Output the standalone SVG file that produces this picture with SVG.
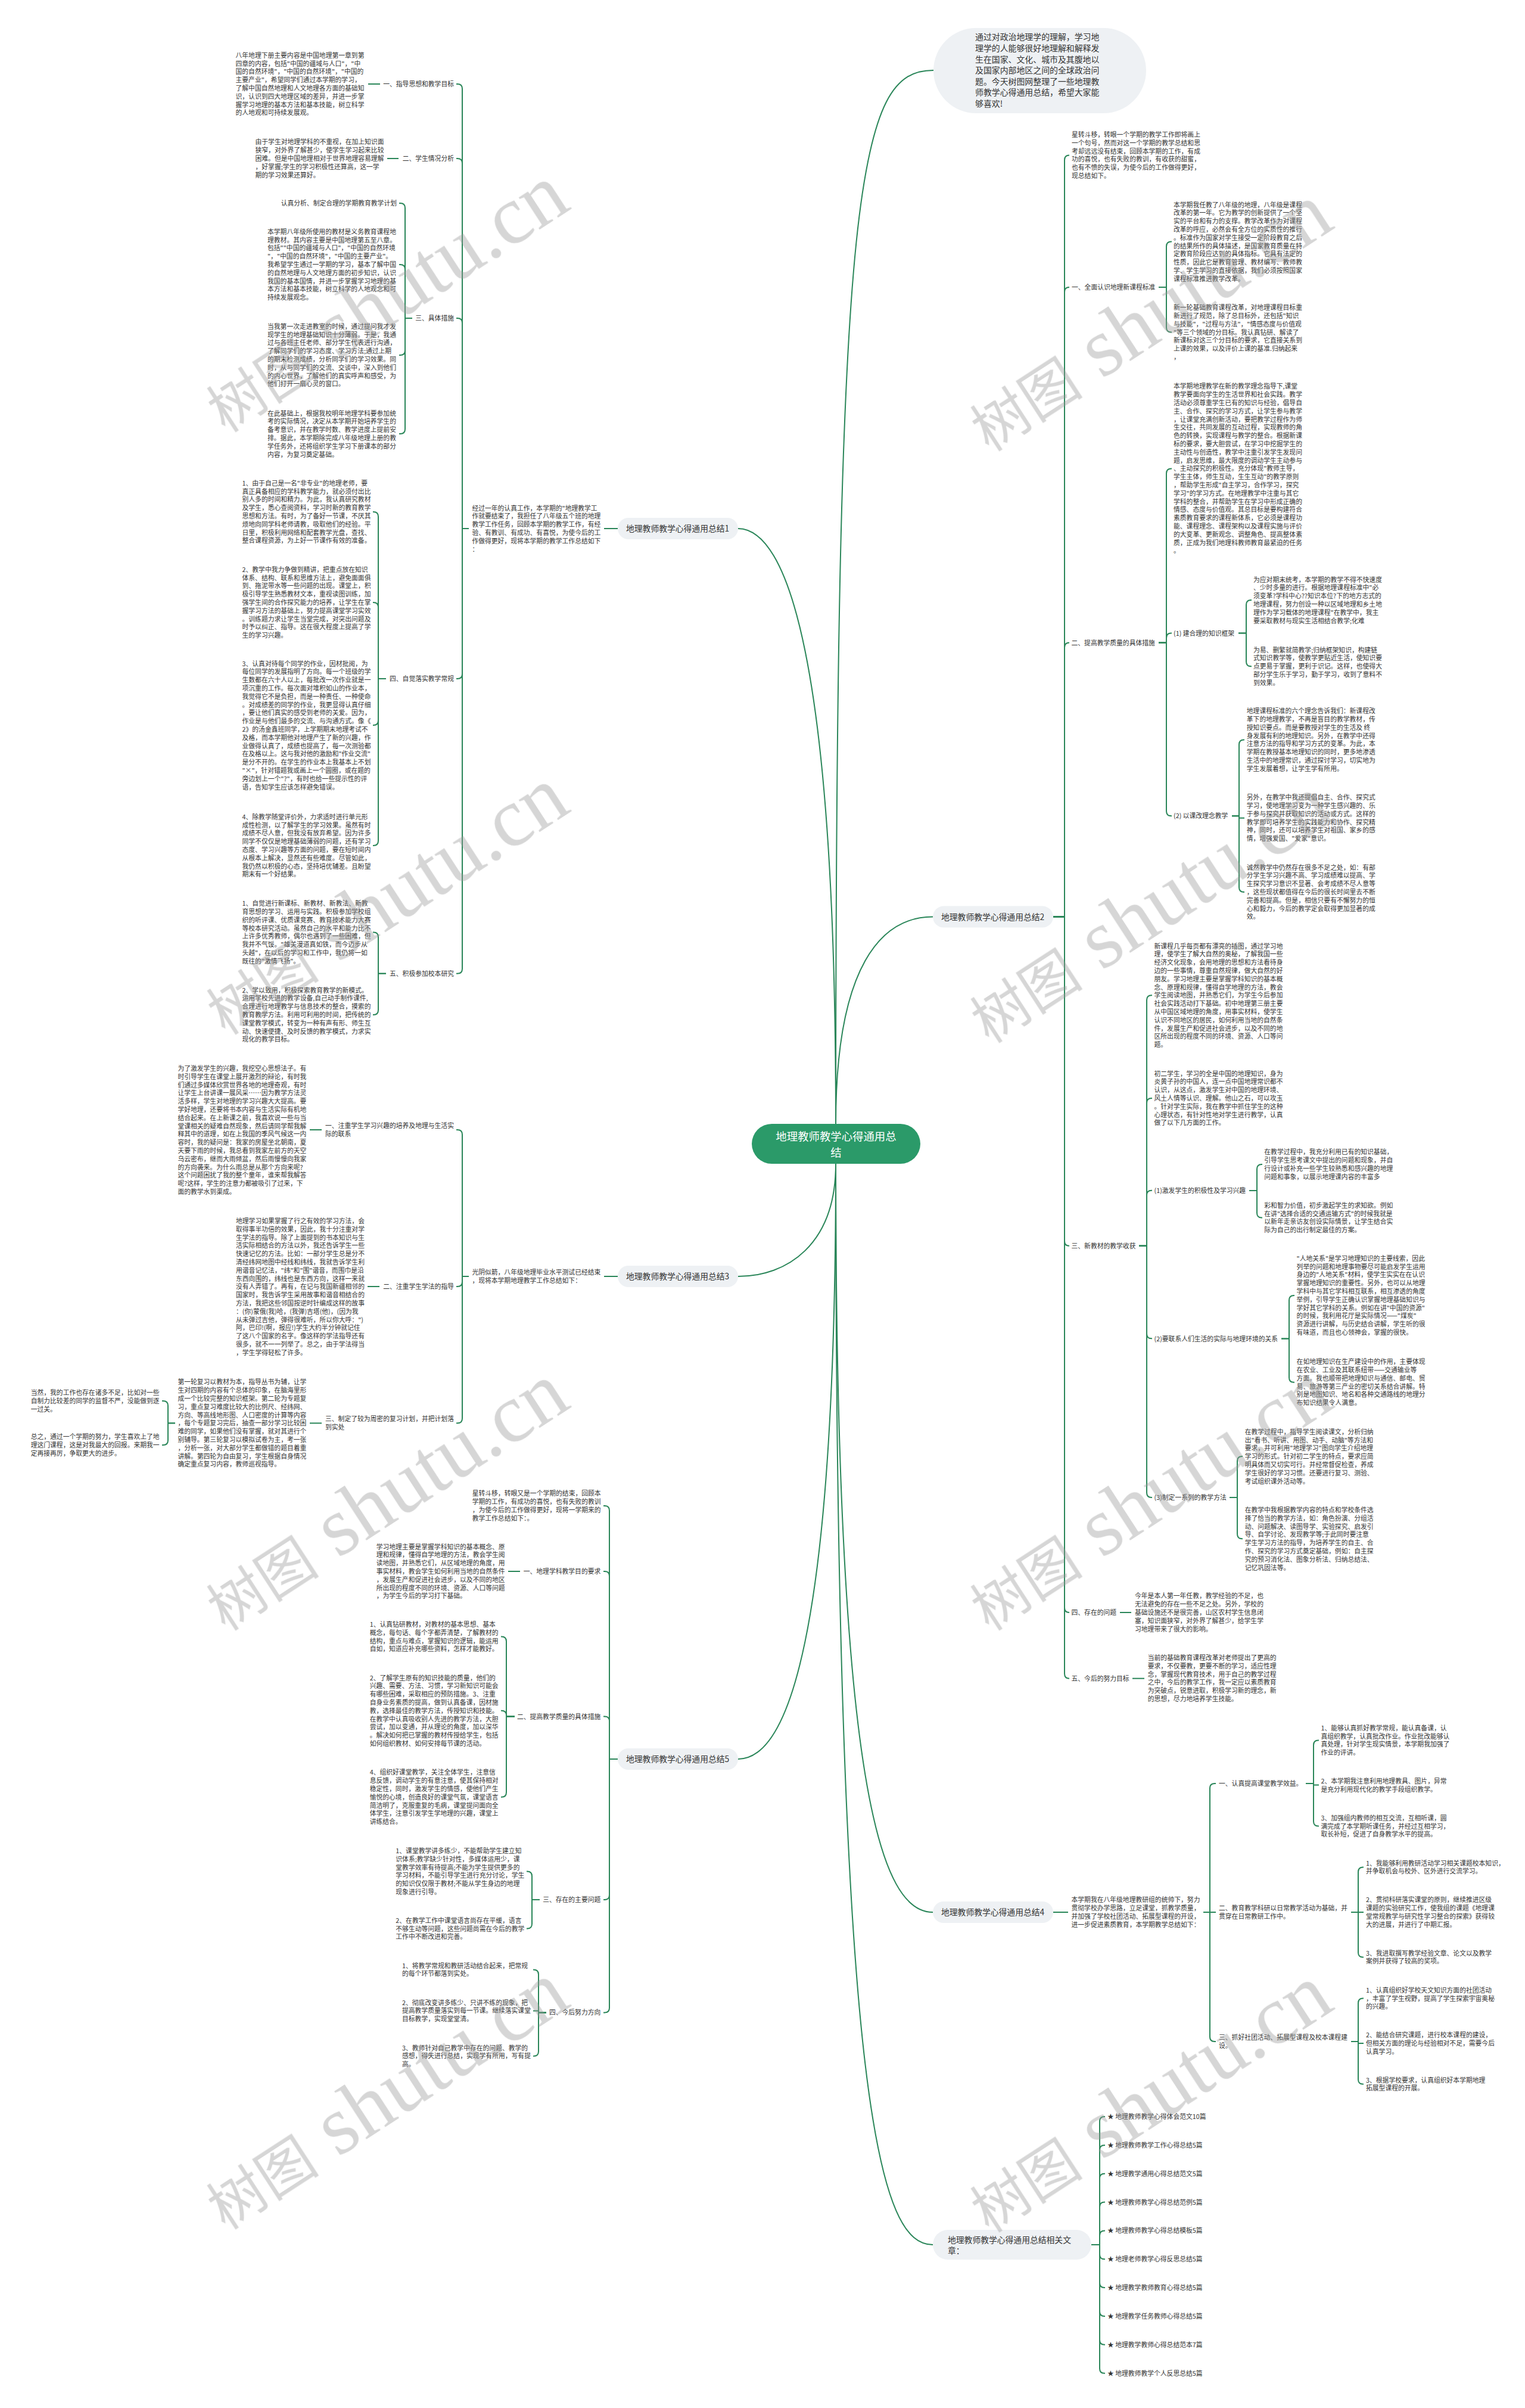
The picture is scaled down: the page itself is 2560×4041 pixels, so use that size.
<svg xmlns="http://www.w3.org/2000/svg" width="2560" height="4041" viewBox="0 0 2560 4041">
<style>
.t{font-family:"Noto Sans CJK SC","Noto Sans",sans-serif;font-size:10.8px;fill:#333}
.e{text-anchor:end}
.l1{font-family:"Noto Sans CJK SC","Noto Sans",sans-serif;font-size:13.8px;fill:#333}
.n1{fill:#eef1f4}
.c{stroke:#2a8659;stroke-width:2;fill:none}
.wm{fill:#9a9a9a;opacity:0.4}
</style>
<rect width="2560" height="4041" fill="#fff"/>

<g id="connectors" class="c">
<path d="M1403,1886 C1403,300 1440,118 1567,118"/>
<path d="M1403,1886 C1403,1100 1320,887 1239,887"/>
<path d="M1403,1886 C1403,1620 1480,1538.6 1566,1538.6"/>
<path d="M1403,1953 C1403,2090 1320,2142 1239,2142"/>
<path d="M1403,1953 C1403,2760 1320,2952 1239,2952"/>
<path d="M1403,1953 C1403,3010 1480,3209 1566,3209"/>
<path d="M1403,1953 C1403,3560 1480,3767 1566,3767"/>
<path d="M1037,887 H1014"/>
<path d="M787,887 H776 V149 Q776,141 768,141 H766"/>
<path d="M787,887 H776 V274 Q776,266 768,266 H766"/>
<path d="M787,887 H776 V542 Q776,534 768,534 H766"/>
<path d="M787,887 H776 V1131 Q776,1139 768,1139 H766"/>
<path d="M787,887 H776 V1625.7 Q776,1633.7 768,1633.7 H766"/>
<path d="M638,141 H618"/>
<path d="M669,266 H650"/>
<path d="M692,534 H680 V349 Q680,341 672,341 H670"/>
<path d="M692,534 H680 V452 Q680,444 672,444 H670"/>
<path d="M692,534 H680 V588 Q680,596 672,596 H670"/>
<path d="M692,534 H680 V720 Q680,728 672,728 H670"/>
<path d="M648,1139 H635 V867 Q635,859 627,859 H626"/>
<path d="M648,1139 H635 V1019 Q635,1011 627,1011 H626"/>
<path d="M648,1139 H635 V1209 Q635,1217 627,1217 H626"/>
<path d="M648,1139 H635 V1411 Q635,1419 627,1419 H626"/>
<path d="M648,1633.7 H635 V1572.5 Q635,1564.5 627,1564.5 H626"/>
<path d="M648,1633.7 H635 V1695 Q635,1703 627,1703 H626"/>
<path d="M1037,2142 H1014"/>
<path d="M787,2142 H776 V1904 Q776,1896 768,1896 H766"/>
<path d="M787,2142 H776 V2151 Q776,2159 768,2159 H766"/>
<path d="M787,2142 H776 V2380.3 Q776,2388.3 768,2388.3 H766"/>
<path d="M540,1896 H520"/>
<path d="M637,2159 H617"/>
<path d="M540,2388.3 H520"/>
<path d="M294,2388.3 H282 V2359 Q282,2351 274,2351 H272"/>
<path d="M294,2388.3 H282 V2417 Q282,2425 274,2425 H272"/>
<path d="M1037,2952 H1023 V2535 Q1023,2527 1015,2527 H1013"/>
<path d="M1037,2952 H1023 V2645 Q1023,2637 1015,2637 H1013"/>
<path d="M1037,2952 H1023 V2888.5 Q1023,2880.5 1015,2880.5 H1013"/>
<path d="M1037,2952 H1023 V3180 Q1023,3188 1015,3188 H1013"/>
<path d="M1037,2952 H1023 V3369.4 Q1023,3377.4 1015,3377.4 H1013"/>
<path d="M873,2637 H853"/>
<path d="M864,2880.5 H850 V2754.6 Q850,2746.6 842,2746.6 H841"/>
<path d="M864,2880.5 H850 V2878.7 Q850,2870.7 842,2870.7 H841"/>
<path d="M864,2880.5 H850 V3007.7 Q850,3015.7 842,3015.7 H841"/>
<path d="M906,3188 H893 V3148.5 Q893,3140.5 885,3140.5 H884"/>
<path d="M906,3188 H893 V3228.5 Q893,3236.5 885,3236.5 H884"/>
<path d="M917,3377.4 H904 V3313.4 Q904,3305.4 896,3305.4 H895"/>
<path d="M917,3377.4 H904 V3374.4 H895"/>
<path d="M917,3377.4 H904 V3442.4 Q904,3450.4 896,3450.4 H895"/>
<path d="M1768,1538.6 H1787 V268.5 Q1787,260.5 1795,260.5"/>
<path d="M1768,1538.6 H1787 V490 Q1787,482 1795,482"/>
<path d="M1768,1538.6 H1787 V1086.6 Q1787,1078.6 1795,1078.6"/>
<path d="M1768,1538.6 H1787 V2082.7 Q1787,2090.7 1795,2090.7"/>
<path d="M1768,1538.6 H1787 V2698 Q1787,2706 1795,2706"/>
<path d="M1768,1538.6 H1787 V2808.7 Q1787,2816.7 1795,2816.7"/>
<path d="M1945,482 H1958 V413.6 Q1958,405.6 1966,405.6 H1967"/>
<path d="M1945,482 H1958 V549.5 Q1958,557.5 1966,557.5 H1967"/>
<path d="M1945,1078.6 H1958 V794.4 Q1958,786.4 1966,786.4 H1967"/>
<path d="M1945,1078.6 H1958 V1070.6 Q1958,1062.6 1966,1062.6 H1967"/>
<path d="M1945,1078.6 H1958 V1361.2 Q1958,1369.2 1966,1369.2 H1967"/>
<path d="M2079,1062.6 H2092 V1015 Q2092,1007 2100,1007 H2101"/>
<path d="M2079,1062.6 H2092 V1110.2 Q2092,1118.2 2100,1118.2 H2101"/>
<path d="M2068,1369.2 H2080 V1249.4 Q2080,1241.4 2088,1241.4 H2089"/>
<path d="M2068,1369.2 H2080 V1372.7 H2089"/>
<path d="M2068,1369.2 H2080 V1489 Q2080,1497 2088,1497 H2089"/>
<path d="M1912,2090.7 H1925 V1678.3 Q1925,1670.3 1933,1670.3 H1934"/>
<path d="M1912,2090.7 H1925 V1851 Q1925,1843 1933,1843 H1934"/>
<path d="M1912,2090.7 H1925 V2005.7 Q1925,1997.7 1933,1997.7 H1934"/>
<path d="M1912,2090.7 H1925 V2238.2 Q1925,2246.2 1933,2246.2 H1934"/>
<path d="M1912,2090.7 H1925 V2505 Q1925,2513 1933,2513 H1934"/>
<path d="M2097,1998 H2110 V1961.9 Q2110,1953.9 2118,1953.9 H2119"/>
<path d="M2097,1998 H2110 V2035.4 Q2110,2043.4 2118,2043.4 H2119"/>
<path d="M2151,2246.5 H2164 V2181.9 Q2164,2173.9 2172,2173.9 H2173"/>
<path d="M2151,2246.5 H2164 V2311.7 Q2164,2319.7 2172,2319.7 H2173"/>
<path d="M2064,2513 H2077 V2452.1 Q2077,2444.1 2085,2444.1 H2086"/>
<path d="M2064,2513 H2077 V2574.2 Q2077,2582.2 2085,2582.2 H2086"/>
<path d="M1880,2706 H1899"/>
<path d="M1901,2816.7 H1921"/>
<path d="M1768,3209 H1793"/>
<path d="M2020,3209 H2031 V3001 Q2031,2993 2039,2993 H2041"/>
<path d="M2020,3209 H2041"/>
<path d="M2020,3209 H2031 V3418 Q2031,3426 2039,3426 H2041"/>
<path d="M2192,2993 H2205 V2928.4 Q2205,2920.4 2213,2920.4 H2214"/>
<path d="M2192,2993 H2205 V2995.6 H2214"/>
<path d="M2192,2993 H2205 V3056.6 Q2205,3064.6 2213,3064.6 H2214"/>
<path d="M2268,3209 H2280 V3141.4 Q2280,3133.4 2288,3133.4 H2289"/>
<path d="M2268,3209 H2289"/>
<path d="M2268,3209 H2280 V3276.4 Q2280,3284.4 2288,3284.4 H2289"/>
<path d="M2268,3426 H2280 V3361.5 Q2280,3353.5 2288,3353.5 H2289"/>
<path d="M2268,3426 H2280 V3429.1 H2289"/>
<path d="M2268,3426 H2280 V3489.5 Q2280,3497.5 2288,3497.5 H2289"/>
<path d="M1832,3767 H1846 V3560 Q1846,3552 1854,3552 H1855"/>
<path d="M1832,3767 H1846 V3607.9 Q1846,3599.9 1854,3599.9 H1855"/>
<path d="M1832,3767 H1846 V3655.7 Q1846,3647.7 1854,3647.7 H1855"/>
<path d="M1832,3767 H1846 V3703.6 Q1846,3695.6 1854,3695.6 H1855"/>
<path d="M1832,3767 H1846 V3751.4 Q1846,3743.4 1854,3743.4 H1855"/>
<path d="M1832,3767 H1846 V3783.3 Q1846,3791.3 1854,3791.3 H1855"/>
<path d="M1832,3767 H1846 V3831.1 Q1846,3839.1 1854,3839.1 H1855"/>
<path d="M1832,3767 H1846 V3879 Q1846,3887 1854,3887 H1855"/>
<path d="M1832,3767 H1846 V3926.8 Q1846,3934.8 1854,3934.8 H1855"/>
<path d="M1832,3767 H1846 V3974.7 Q1846,3982.7 1854,3982.7 H1855"/>
</g>

<g id="center">
<rect x="1262" y="1886" width="283" height="67" rx="33.5" fill="#2b9a69"/>
<text x="1403.5" y="1914.3" text-anchor="middle" style="font-family:'Noto Sans CJK SC',sans-serif;font-size:18.4px;fill:#fff">地理教师教学心得通用总</text>
<text x="1403.5" y="1940.6" text-anchor="middle" style="font-family:'Noto Sans CJK SC',sans-serif;font-size:18.4px;fill:#fff">结</text>
</g>

<g id="intro">
<rect x="1567" y="47" width="357" height="143" rx="71.5" class="n1"/>
<text class="l1" x="1637" y="48.8" style="font-size:13.9px"><tspan x="1637" dy="18.6">通过对政治地理学的理解，学习地</tspan><tspan x="1637" dy="18.6">理学的人能够很好地理解和解释发</tspan><tspan x="1637" dy="18.6">生在国家、文化、城市及其腹地以</tspan><tspan x="1637" dy="18.6">及国家内部地区之间的全球政治问</tspan><tspan x="1637" dy="18.6">题。今天树图网整理了一些地理教</tspan><tspan x="1637" dy="18.6">师教学心得通用总结，希望大家能</tspan><tspan x="1637" dy="18.6">够喜欢!</tspan></text>
</g>

<g id="sum1">
<rect x="1037" y="869" width="202" height="36" rx="18" class="n1"/>
<text class="l1" x="1051" y="892">地理教师教学心得通用总结1</text>
</g>
<g id="sum1-intro">
<text class="t" x="792.4" y="842.7"><tspan x="792.4" dy="13.8">经过一年的认真工作，本学期的"地理教学工</tspan><tspan x="792.4" dy="13.8">作就要结束了，我担任了八年级五个班的地理</tspan><tspan x="792.4" dy="13.8">教学工作任务，回顾本学期的教学工作，有经</tspan><tspan x="792.4" dy="13.8">验、有教训、有成功、有喜悦，为使今后的工</tspan><tspan x="792.4" dy="13.8">作做得更好，现将本学期的教学工作总结如下</tspan><tspan x="792.4" dy="13.8">：</tspan></text>
</g>
<g id="s1-1">
<text class="t e" x="762" y="145">一、指导思想和教学目标</text>
<text class="t" x="395.5" y="82.9"><tspan x="395.5" dy="13.8">八年地理下册主要内容是中国地理第一章到第</tspan><tspan x="395.5" dy="13.8">四章的内容，包括"中国的疆域与人口"，"中</tspan><tspan x="395.5" dy="13.8">国的自然环境"，"中国的自然环境"，"中国的</tspan><tspan x="395.5" dy="13.8">主要产业"，希望同学们通过本学期的学习，</tspan><tspan x="395.5" dy="13.8">了解中国自然地理和人文地理各方面的基础知</tspan><tspan x="395.5" dy="13.8">识，认识到四大地理区域的差异，并进一步掌</tspan><tspan x="395.5" dy="13.8">握学习地理的基本方法和基本技能，树立科学</tspan><tspan x="395.5" dy="13.8">的人地观和可持续发展观。</tspan></text>
</g>
<g id="s1-2">
<text class="t e" x="762" y="270">二、学生情况分析</text>
<text class="t" x="428.5" y="228.6"><tspan x="428.5" dy="13.8">由于学生对地理学科的不重视，在加上知识面</tspan><tspan x="428.5" dy="13.8">狭窄，对外界了解甚少，使学生学习起来比较</tspan><tspan x="428.5" dy="13.8">困难。但是中国地理相对于世界地理容易理解</tspan><tspan x="428.5" dy="13.8">，好掌握;学生的学习积极性还算高，这一学</tspan><tspan x="428.5" dy="13.8">期的学习效果还算好。</tspan></text>
</g>
<g id="s1-3">
<text class="t e" x="762" y="538">三、具体措施</text>
<text class="t e" x="666" y="345">认真分析、制定合理的学期教育教学计划</text>
<text class="t" x="449" y="379"><tspan x="449" dy="13.8">本学期八年级所使用的教材是义务教育课程地</tspan><tspan x="449" dy="13.8">理教材。其内容主要是中国地理第五至八章。</tspan><tspan x="449" dy="13.8">包括""中国的疆域与人口"，"中国的自然环境</tspan><tspan x="449" dy="13.8">"，"中国的自然环境"，"中国的主要产业"。</tspan><tspan x="449" dy="13.8">我希望学生通过一学期的学习，基本了解中国</tspan><tspan x="449" dy="13.8">的自然地理与人文地理方面的初步知识，认识</tspan><tspan x="449" dy="13.8">我国的基本国情，并进一步掌握学习地理的基</tspan><tspan x="449" dy="13.8">本方法和基本技能，树立科学的人地观念和可</tspan><tspan x="449" dy="13.8">持续发展观念。</tspan></text>
<text class="t" x="449" y="537.9"><tspan x="449" dy="13.8">当我第一次走进教室的时候，通过提问我才发</tspan><tspan x="449" dy="13.8">现学生的地理基础知识十分薄弱。于是，我通</tspan><tspan x="449" dy="13.8">过与各班主任老师、部分学生代表进行沟通，</tspan><tspan x="449" dy="13.8">了解同学们的学习态度、学习方法;通过上期</tspan><tspan x="449" dy="13.8">的期末检测成绩，分析同学们的学习效果。同</tspan><tspan x="449" dy="13.8">时，从与同学们的交流、交谈中，深入到他们</tspan><tspan x="449" dy="13.8">的内心世界，了解他们的真实呼声和感受，为</tspan><tspan x="449" dy="13.8">他们打开一扇心灵的窗口。</tspan></text>
<text class="t" x="449" y="683.7"><tspan x="449" dy="13.8">在此基础上，根据我校明年地理学科要参加统</tspan><tspan x="449" dy="13.8">考的实际情况，决定从本学期开始培养学生的</tspan><tspan x="449" dy="13.8">备考意识，并在教学时数、教学进度上提前安</tspan><tspan x="449" dy="13.8">排。据此，本学期除完成八年级地理上册的教</tspan><tspan x="449" dy="13.8">学任务外，还将组织学生学习下册课本的部分</tspan><tspan x="449" dy="13.8">内容，为复习奠定基础。</tspan></text>
</g>
<g id="s1-4">
<text class="t e" x="762" y="1143">四、自觉落实教学常规</text>
<text class="t" x="406.5" y="800.9"><tspan x="406.5" dy="13.8">1、由于自己是一名"非专业"的地理老师，要</tspan><tspan x="406.5" dy="13.8">真正具备相应的学科教学能力，就必须付出比</tspan><tspan x="406.5" dy="13.8">别人多的时间和精力。为此，我认真研究教材</tspan><tspan x="406.5" dy="13.8">及学生，悉心查阅资料，学习时新的教育教学</tspan><tspan x="406.5" dy="13.8">思想和方法。有时，为了备好一节课，不厌其</tspan><tspan x="406.5" dy="13.8">烦地向同学科老师请教，吸取他们的经验。平</tspan><tspan x="406.5" dy="13.8">日里，积极利用网络和配套教学光盘，查找、</tspan><tspan x="406.5" dy="13.8">整合课程资源，为上好一节课作有效的准备。</tspan></text>
<text class="t" x="406.5" y="946"><tspan x="406.5" dy="13.8">2、教学中我力争做到精讲，把重点放在知识</tspan><tspan x="406.5" dy="13.8">体系、结构、联系和思维方法上，避免面面俱</tspan><tspan x="406.5" dy="13.8">到、拖泥带水等一些问题的出现。课堂上，积</tspan><tspan x="406.5" dy="13.8">极引导学生熟悉教材文本，重视读图训练，加</tspan><tspan x="406.5" dy="13.8">强学生间的合作探究能力的培养，让学生在掌</tspan><tspan x="406.5" dy="13.8">握学习方法的基础上，努力提高课堂学习实效</tspan><tspan x="406.5" dy="13.8">。训练题力求让学生当堂完成，对突出问题及</tspan><tspan x="406.5" dy="13.8">时予以纠正、指导。这在很大程度上提高了学</tspan><tspan x="406.5" dy="13.8">生的学习兴趣。</tspan></text>
<text class="t" x="406.5" y="1103.7"><tspan x="406.5" dy="13.8">3、认真对待每个同学的作业，因材批阅，为</tspan><tspan x="406.5" dy="13.8">每位同学的发展指明了方向。每一个班级的学</tspan><tspan x="406.5" dy="13.8">生数都在六十人以上，每批改一次作业就是一</tspan><tspan x="406.5" dy="13.8">项沉重的工作。每次面对堆积如山的作业本，</tspan><tspan x="406.5" dy="13.8">我觉得它不是负担，而是一种责任、一种使命</tspan><tspan x="406.5" dy="13.8">。对成绩差的同学的作业，我更显得认真仔细</tspan><tspan x="406.5" dy="13.8">，要让他们真实的感受到老师的关爱。因为，</tspan><tspan x="406.5" dy="13.8">作业是与他们最多的交流、与沟通方式。像《</tspan><tspan x="406.5" dy="13.8">2》的汤金鑫班同学，上学期期末地理考试不</tspan><tspan x="406.5" dy="13.8">及格，而本学期他对地理产生了新的兴趣，作</tspan><tspan x="406.5" dy="13.8">业做得认真了，成绩也提高了，每一次测验都</tspan><tspan x="406.5" dy="13.8">在及格以上。这与我对他的激励和"作业交流"</tspan><tspan x="406.5" dy="13.8">是分不开的。在学生的作业本上我基本上不划</tspan><tspan x="406.5" dy="13.8">"×"，针对错题我或画上一个圆圈，或在题的</tspan><tspan x="406.5" dy="13.8">旁边划上一个"?"，有时也给一些提示性的评</tspan><tspan x="406.5" dy="13.8">语，告知学生应该怎样避免错误。</tspan></text>
<text class="t" x="406.5" y="1360.9"><tspan x="406.5" dy="13.8">4、除教学随堂评价外，力求适时进行单元形</tspan><tspan x="406.5" dy="13.8">成性检测，以了解学生的学习效果。虽然有时</tspan><tspan x="406.5" dy="13.8">成绩不尽人意，但我没有放弃希望。因为许多</tspan><tspan x="406.5" dy="13.8">同学不仅仅是地理基础薄弱的问题，还有学习</tspan><tspan x="406.5" dy="13.8">态度、学习兴趣等方面的问题，要在短时间内</tspan><tspan x="406.5" dy="13.8">从根本上解决，显然还有些难度。尽管如此，</tspan><tspan x="406.5" dy="13.8">我仍然以积极的心态，坚持培优辅差。且盼望</tspan><tspan x="406.5" dy="13.8">期末有一个好结果。</tspan></text>
</g>
<g id="s1-5">
<text class="t e" x="762" y="1637.7">五、积极参加校本研究</text>
<text class="t" x="406.5" y="1506.4"><tspan x="406.5" dy="13.8">1、自觉进行新课标、新教材、新教法、新教</tspan><tspan x="406.5" dy="13.8">育思想的学习、运用与实践。积极参加学校组</tspan><tspan x="406.5" dy="13.8">织的听评课、优质课竞赛、教育技术能力大赛</tspan><tspan x="406.5" dy="13.8">等校本研究活动。虽然自己的水平和能力比不</tspan><tspan x="406.5" dy="13.8">上许多优秀教师，偶尔也遇到了一些困难，但</tspan><tspan x="406.5" dy="13.8">我并不气馁。"雄关漫道真如铁，而今迈步从</tspan><tspan x="406.5" dy="13.8">头越"，在以后的学习和工作中，我仍将一如</tspan><tspan x="406.5" dy="13.8">既往的"激情飞扬"。</tspan></text>
<text class="t" x="406.5" y="1651.8"><tspan x="406.5" dy="13.8">2、学以致用，积极探索教育教学的新模式。</tspan><tspan x="406.5" dy="13.8">运用学校先进的教学设备,自己动手制作课件,</tspan><tspan x="406.5" dy="13.8">合理进行地理教学与信息技术的整合，摸索的</tspan><tspan x="406.5" dy="13.8">教育教学方法。利用可利用的时间，把传统的</tspan><tspan x="406.5" dy="13.8">课堂教学模式，转变为一种有声有形、师生互</tspan><tspan x="406.5" dy="13.8">动、快速便捷、及时反馈的教学模式，力求实</tspan><tspan x="406.5" dy="13.8">现化的教学目标。</tspan></text>
</g>

<g id="sum3">
<rect x="1037" y="2124" width="202" height="36" rx="18" class="n1"/>
<text class="l1" x="1051" y="2147">地理教师教学心得通用总结3</text>
</g>
<g id="sum3-intro">
<text class="t" x="792.4" y="2125.3"><tspan x="792.4" dy="13.8">光阴似箭，八年级地理毕业水平测试已经结束</tspan><tspan x="792.4" dy="13.8">，现将本学期地理教学工作总结如下：</tspan></text>
</g>
<g id="s3-1">
<text class="t" x="546" y="1879.3"><tspan x="546" dy="13.8">一、注重学生学习兴趣的培养及地理与生活实</tspan><tspan x="546" dy="13.8">际的联系</tspan></text>
<text class="t" x="298.4" y="1783.2"><tspan x="298.4" dy="13.8">为了激发学生的兴趣，我挖空心思想法子。有</tspan><tspan x="298.4" dy="13.8">时引导学生在课堂上展开激烈的辩论，有时我</tspan><tspan x="298.4" dy="13.8">们通过多媒体欣赏世界各地的地理奇观，有时</tspan><tspan x="298.4" dy="13.8">让学生上台讲课一展风采……因为教学方法灵</tspan><tspan x="298.4" dy="13.8">活多样，学生对地理的学习兴趣大大提高。要</tspan><tspan x="298.4" dy="13.8">学好地理，还要将书本内容与生活实际有机地</tspan><tspan x="298.4" dy="13.8">结合起来。在上新课之前，我喜欢说一些与当</tspan><tspan x="298.4" dy="13.8">堂课相关的疑难自然现象，然后请同学帮我解</tspan><tspan x="298.4" dy="13.8">释其中的道理，如在上我国的季风气候这一内</tspan><tspan x="298.4" dy="13.8">容时，我的疑问是：我家的房屋坐北朝南，夏</tspan><tspan x="298.4" dy="13.8">天要下雨的时候，我总看到我家左前方的天空</tspan><tspan x="298.4" dy="13.8">乌云密布，继而大雨倾盆，然后雨慢慢向我家</tspan><tspan x="298.4" dy="13.8">的方向袭来。为什么雨总是从那个方向来呢?</tspan><tspan x="298.4" dy="13.8">这个问题困扰了我的整个童年，谁来帮我解答</tspan><tspan x="298.4" dy="13.8">呢?这样，学生的注意力都被吸引了过来，下</tspan><tspan x="298.4" dy="13.8">面的教学水到渠成。</tspan></text>
</g>
<g id="s3-2">
<text class="t e" x="762" y="2163">二、注重学生学法的指导</text>
<text class="t" x="396" y="2039.1"><tspan x="396" dy="13.8">地理学习如果掌握了行之有效的学习方法，会</tspan><tspan x="396" dy="13.8">取得事半功倍的效果，因此，我十分注重对学</tspan><tspan x="396" dy="13.8">生学法的指导。除了上面提到的书本知识与生</tspan><tspan x="396" dy="13.8">活实际相结合的方法以外，我还告诉学生一些</tspan><tspan x="396" dy="13.8">快速记忆的方法。比如：一部分学生总是分不</tspan><tspan x="396" dy="13.8">清经纬网地图中经线和纬线，我就告诉学生利</tspan><tspan x="396" dy="13.8">用谐音记忆法，"纬"和"围"谐音，而围巾是沿</tspan><tspan x="396" dy="13.8">东西向围的，纬线也是东西方向，这样一来就</tspan><tspan x="396" dy="13.8">没有人弄错了。再有，在记与我国新疆相邻的</tspan><tspan x="396" dy="13.8">国家时，我告诉学生采用故事和谐音相结合的</tspan><tspan x="396" dy="13.8">方法，我把这些邻国按逆时针编成这样的故事</tspan><tspan x="396" dy="13.8">：(你)蒙俄(我)哈，(我弹)吉塔(他)，(因为我</tspan><tspan x="396" dy="13.8">从未弹过吉他，弹得很难听，所以你大呼：")</tspan><tspan x="396" dy="13.8">阿，巴印!(啊，报应!)学生大约半分钟就记住</tspan><tspan x="396" dy="13.8">了这八个国家的名字。像这样的学法指导还有</tspan><tspan x="396" dy="13.8">很多，就不一一列举了。总之，由于学法得当</tspan><tspan x="396" dy="13.8">，学生学得轻松了许多。</tspan></text>
</g>
<g id="s3-3">
<text class="t" x="546" y="2371.6"><tspan x="546" dy="13.8">三、制定了较为周密的复习计划，并把计划落</tspan><tspan x="546" dy="13.8">到实处</tspan></text>
<text class="t" x="298.4" y="2309.5"><tspan x="298.4" dy="13.8">第一轮复习以教材为本，指导丛书为辅，让学</tspan><tspan x="298.4" dy="13.8">生对四期的内容有个总体的印象，在脑海里形</tspan><tspan x="298.4" dy="13.8">成一个比较完整的知识框架。第二轮为专题复</tspan><tspan x="298.4" dy="13.8">习，重点复习难度比较大的比例尺、经纬网、</tspan><tspan x="298.4" dy="13.8">方向、等高线地形图、人口密度的计算等内容</tspan><tspan x="298.4" dy="13.8">，每个专题复习完后，抽查一部分学习比较困</tspan><tspan x="298.4" dy="13.8">难的同学，如果他们没有掌握，就对其进行个</tspan><tspan x="298.4" dy="13.8">别辅导。第三轮复习以模拟试卷为主，考一张</tspan><tspan x="298.4" dy="13.8">，分析一张，对大部分学生都做错的题目着重</tspan><tspan x="298.4" dy="13.8">讲解。第四轮为自由复习，学生根据自身情况</tspan><tspan x="298.4" dy="13.8">确定重点复习内容，教师巡视指导。</tspan></text>
<text class="t" x="51.7" y="2327.4"><tspan x="51.7" dy="13.8">当然，我的工作也存在诸多不足，比如对一些</tspan><tspan x="51.7" dy="13.8">自制力比较差的同学的监督不严，没能做到逐</tspan><tspan x="51.7" dy="13.8">一过关。</tspan></text>
<text class="t" x="51.7" y="2401.4"><tspan x="51.7" dy="13.8">总之，通过一个学期的努力，学生喜欢上了地</tspan><tspan x="51.7" dy="13.8">理这门课程，这是对我最大的回报。来期我一</tspan><tspan x="51.7" dy="13.8">定再接再厉，争取更大的进步。</tspan></text>
</g>

<g id="sum5">
<rect x="1037" y="2934" width="202" height="36" rx="18" class="n1"/>
<text class="l1" x="1051" y="2957">地理教师教学心得通用总结5</text>
</g>
<g id="s5-0">
<text class="t" x="792.7" y="2496.5"><tspan x="792.7" dy="13.8">星转斗移，转眼又是一个学期的结束，回顾本</tspan><tspan x="792.7" dy="13.8">学期的工作，有成功的喜悦，也有失败的教训</tspan><tspan x="792.7" dy="13.8">，为使今后的工作做得更好，现将一学期来的</tspan><tspan x="792.7" dy="13.8">教学工作总结如下：。</tspan></text>
</g>
<g id="s5-1">
<text class="t e" x="1008.3" y="2641">一、地理学科教学目的要求</text>
<text class="t" x="631.7" y="2585.8"><tspan x="631.7" dy="13.8">学习地理主要是掌握学科知识的基本概念、原</tspan><tspan x="631.7" dy="13.8">理和规律，懂得自学地理的方法，教会学生阅</tspan><tspan x="631.7" dy="13.8">读地图，并熟悉它们，从区域地理的角度，用</tspan><tspan x="631.7" dy="13.8">事实材料，教会学生如何利用当地的自然条件</tspan><tspan x="631.7" dy="13.8">，发展生产和促进社会进步，以及不同的地区</tspan><tspan x="631.7" dy="13.8">所出现的程度不同的环境、资源、人口等问题</tspan><tspan x="631.7" dy="13.8">，为学生今后的学习打下基础。</tspan></text>
</g>
<g id="s5-2">
<text class="t e" x="1008.3" y="2884.5">二、提高教学质量的具体措施</text>
<text class="t" x="620.7" y="2716.1"><tspan x="620.7" dy="13.8">1、认真钻研教材，对教材的基本思想、基本</tspan><tspan x="620.7" dy="13.8">概念，每句话、每个字都弄清楚，了解教材的</tspan><tspan x="620.7" dy="13.8">结构，重点与难点，掌握知识的逻辑，能运用</tspan><tspan x="620.7" dy="13.8">自如，知道应补充哪些资料，怎样才能教好。</tspan></text>
<text class="t" x="620.7" y="2805.7"><tspan x="620.7" dy="13.8">2、了解学生原有的知识技能的质量，他们的</tspan><tspan x="620.7" dy="13.8">兴趣、需要、方法、习惯，学习新知识可能会</tspan><tspan x="620.7" dy="13.8">有哪些困难，采取相应的预防措施。3、注重</tspan><tspan x="620.7" dy="13.8">自身业务素质的提高，做到认真备课，因材施</tspan><tspan x="620.7" dy="13.8">教，选择最佳的教学方法，传授知识和技能。</tspan><tspan x="620.7" dy="13.8">在教学中认真吸收别人先进的教学方法，大胆</tspan><tspan x="620.7" dy="13.8">尝试，加以变通，并从理论的角度，加以深华</tspan><tspan x="620.7" dy="13.8">。解决如何把已掌握的教材传授给学生，包括</tspan><tspan x="620.7" dy="13.8">如何组织教材、如何安排每节课的活动。</tspan></text>
<text class="t" x="620.7" y="2964.5"><tspan x="620.7" dy="13.8">4、组织好课堂教学，关注全体学生，注意信</tspan><tspan x="620.7" dy="13.8">息反馈，调动学生的有意注意，使其保持相对</tspan><tspan x="620.7" dy="13.8">稳定性，同时，激发学生的情感，使他们产生</tspan><tspan x="620.7" dy="13.8">愉悦的心境，创造良好的课堂气氛，课堂语言</tspan><tspan x="620.7" dy="13.8">简洁明了，克服重复的毛病，课堂提问面向全</tspan><tspan x="620.7" dy="13.8">体学生，注意引发学生学地理的兴趣，课堂上</tspan><tspan x="620.7" dy="13.8">讲练结合。</tspan></text>
</g>
<g id="s5-3">
<text class="t e" x="1008.3" y="3192">三、存在的主要问题</text>
<text class="t" x="664.3" y="3096.2"><tspan x="664.3" dy="13.8">1、课堂教学讲多练少，不能帮助学生建立知</tspan><tspan x="664.3" dy="13.8">识体系;教学缺少针对性，多媒体运用少，课</tspan><tspan x="664.3" dy="13.8">堂教学效率有待提高;不能为学生提供更多的</tspan><tspan x="664.3" dy="13.8">学习材料，不能引导学生进行充分讨论，学生</tspan><tspan x="664.3" dy="13.8">的知识仅仅限于教材;不能从学生身边的地理</tspan><tspan x="664.3" dy="13.8">现象进行引导。</tspan></text>
<text class="t" x="664.3" y="3212.9"><tspan x="664.3" dy="13.8">2、在教学工作中课堂语言尚存在平缓，语言</tspan><tspan x="664.3" dy="13.8">不够生动等问题，这些问题尚需在今后的教学</tspan><tspan x="664.3" dy="13.8">工作中不断改进和完善。</tspan></text>
</g>
<g id="s5-4">
<text class="t e" x="1008.3" y="3381.4">四、今后努力方向</text>
<text class="t" x="675" y="3288.7"><tspan x="675" dy="13.8">1、将教学常规和教研活动结合起来，把常规</tspan><tspan x="675" dy="13.8">的每个环节都落到实处。</tspan></text>
<text class="t" x="675" y="3350.8"><tspan x="675" dy="13.8">2、彻底改变讲多练少、只讲不练的现象，把</tspan><tspan x="675" dy="13.8">提高教学质量落实到每一节课。继续落实课堂</tspan><tspan x="675" dy="13.8">目标教学，实现堂堂清。</tspan></text>
<text class="t" x="675" y="3426.8"><tspan x="675" dy="13.8">3、教师针对自己教学中存在的问题、教学的</tspan><tspan x="675" dy="13.8">感想，得失进行总结，实现学有所用，写有提</tspan><tspan x="675" dy="13.8">高。</tspan></text>
</g>

<g id="sum2">
<rect x="1566" y="1520.6" width="202" height="36" rx="18" class="n1"/>
<text class="l1" x="1580" y="1543.6">地理教师教学心得通用总结2</text>
</g>
<g id="s2-0">
<text class="t" x="1799" y="216.2"><tspan x="1799" dy="13.8">星转斗移，转眼一个学期的教学工作即将画上</tspan><tspan x="1799" dy="13.8">一个句号，然而对这一个学期的教学总结和思</tspan><tspan x="1799" dy="13.8">考却远远没有结束，回顾本学期的工作，有成</tspan><tspan x="1799" dy="13.8">功的喜悦，也有失败的教训，有收获的甜蜜，</tspan><tspan x="1799" dy="13.8">也有不愤的失误，为使今后的工作做得更好，</tspan><tspan x="1799" dy="13.8">现总结如下。</tspan></text>
</g>
<g id="s2-1">
<text class="t" x="1799" y="486">一、全面认识地理新课程标准</text>
<text class="t" x="1970" y="333.7"><tspan x="1970" dy="13.8">本学期我任教了八年级的地理，八年级是课程</tspan><tspan x="1970" dy="13.8">改革的第一年。它为教学的创新提供了一个坚</tspan><tspan x="1970" dy="13.8">实的平台和有力的支撑。教学改革作为对课程</tspan><tspan x="1970" dy="13.8">改革的呼应，必然会有全方位的实质性的推行</tspan><tspan x="1970" dy="13.8">。标准作为国家对学生接受一定阶段教育之后</tspan><tspan x="1970" dy="13.8">的结果所作的具体描述，是国家教育质量在特</tspan><tspan x="1970" dy="13.8">定教育阶段应达到的具体指标。它具有法定的</tspan><tspan x="1970" dy="13.8">性质，因此它是教育管理、教材编写、教师教</tspan><tspan x="1970" dy="13.8">学、学生学习的直接依据，我们必须按照国家</tspan><tspan x="1970" dy="13.8">课程标准推进教学改革。</tspan></text>
<text class="t" x="1970" y="506.3"><tspan x="1970" dy="13.8">新一轮基础教育课程改革，对地理课程目标重</tspan><tspan x="1970" dy="13.8">新进行了规范，除了总目标外，还包括"知识</tspan><tspan x="1970" dy="13.8">与技能"，"过程与方法"，"情感态度与价值观</tspan><tspan x="1970" dy="13.8">"等三个领域的分目标。我认真钻研、解读了</tspan><tspan x="1970" dy="13.8">新课标对这三个分目标的要求，它直接关系到</tspan><tspan x="1970" dy="13.8">上课的效果，以及评价上课的基准.归纳起来</tspan><tspan x="1970" dy="13.8">，</tspan></text>
</g>
<g id="s2-2">
<text class="t" x="1798.5" y="1082.6">二、提高教学质量的具体措施</text>
<text class="t" x="1970" y="638.6"><tspan x="1970" dy="13.8">本学期地理教学在新的教学理念指导下,课堂</tspan><tspan x="1970" dy="13.8">教学要面向学生的生活世界和社会实践。教学</tspan><tspan x="1970" dy="13.8">活动必须尊重学生已有的知识与经验，倡导自</tspan><tspan x="1970" dy="13.8">主、合作、探究的学习方式，让学生参与教学</tspan><tspan x="1970" dy="13.8">，让课堂充满创新活动，要把教学过程作为师</tspan><tspan x="1970" dy="13.8">生交往，共同发展的互动过程，实现教师的角</tspan><tspan x="1970" dy="13.8">色的转换，实现课程与教学的整合。根据新课</tspan><tspan x="1970" dy="13.8">标的要求，要大胆尝试，在学习中挖掘学生的</tspan><tspan x="1970" dy="13.8">主动性与创造性，教学中注重引发学生发现问</tspan><tspan x="1970" dy="13.8">题，启发思维，最大限度的调动学生主动参与</tspan><tspan x="1970" dy="13.8">、主动探究的积极性。充分体现"教师主导，</tspan><tspan x="1970" dy="13.8">学生主体，师生互动，生生互动"的教学原则</tspan><tspan x="1970" dy="13.8">，帮助学生形成"自主学习，合作学习，探究</tspan><tspan x="1970" dy="13.8">学习"的学习方式。在地理教学中注重与其它</tspan><tspan x="1970" dy="13.8">学科的整合，并帮助学生在学习中形成正确的</tspan><tspan x="1970" dy="13.8">情感、态度与价值观。其总目标是要构建符合</tspan><tspan x="1970" dy="13.8">素质教育要求的课程新体系，它必须是课程功</tspan><tspan x="1970" dy="13.8">能、课程理念、课程架构以及课程实施与评价</tspan><tspan x="1970" dy="13.8">的大变革、更新观念、调整角色、提高整体素</tspan><tspan x="1970" dy="13.8">质，正成为我们地理科教师教育最紧迫的任务</tspan><tspan x="1970" dy="13.8">。</tspan></text>
<text class="t" x="1970" y="1066.6">(1) 建合理的知识框架</text>
<text class="t" x="2104" y="962.7"><tspan x="2104" dy="13.8">为应对期末统考，本学期的教学不得不快速度</tspan><tspan x="2104" dy="13.8">、少时多量的进行。根据地理课程标准中"必</tspan><tspan x="2104" dy="13.8">须变革?学科中心??知识本位?下的地方志式的</tspan><tspan x="2104" dy="13.8">地理课程，努力创设一种以区域地理和乡土地</tspan><tspan x="2104" dy="13.8">理作为学习载体的地理课程"在教学中，我主</tspan><tspan x="2104" dy="13.8">要采取教材与现实生活相结合教学;化难</tspan></text>
<text class="t" x="2104" y="1080.8"><tspan x="2104" dy="13.8">为易、删繁就简教学;归纳框架知识，构建链</tspan><tspan x="2104" dy="13.8">式知识教学等，使教学更贴近生活，使知识要</tspan><tspan x="2104" dy="13.8">点更易于掌握，更利于识记。这样，也使得大</tspan><tspan x="2104" dy="13.8">部分学生乐于学习，勤于学习，收到了意料不</tspan><tspan x="2104" dy="13.8">到效果。</tspan></text>
<text class="t" x="1970" y="1373.2">(2) 以课改理念教学</text>
<text class="t" x="2092.8" y="1183.3"><tspan x="2092.8" dy="13.8">地理课程标准的六个理念告诉我们：新课程改</tspan><tspan x="2092.8" dy="13.8">革下的地理教学，不再是盲目的教学教材，传</tspan><tspan x="2092.8" dy="13.8">授知识要点。而是要教授对学生的生活及 终</tspan><tspan x="2092.8" dy="13.8">身发展有利的地理知识。另外，在教学中还得</tspan><tspan x="2092.8" dy="13.8">注意方法的指导和学习方式的变革。为此，本</tspan><tspan x="2092.8" dy="13.8">学期在教授基本地理知识的同时，更多地渗透</tspan><tspan x="2092.8" dy="13.8">生活中的地理常识，通过探讨学习，切实地为</tspan><tspan x="2092.8" dy="13.8">学生发展着想，让学生学有所用。</tspan></text>
<text class="t" x="2092.8" y="1328.4"><tspan x="2092.8" dy="13.8">另外，在教学中我还提倡自主、合作、探究式</tspan><tspan x="2092.8" dy="13.8">学习，使地理学习变为一种学生感兴趣的、乐</tspan><tspan x="2092.8" dy="13.8">于参与探究并获取知识的活动或方式。这样的</tspan><tspan x="2092.8" dy="13.8">教学即可培养学生的实践能力和协作、探究精</tspan><tspan x="2092.8" dy="13.8">神，同时，还可以培养学生对祖国、家乡的感</tspan><tspan x="2092.8" dy="13.8">情，增强爱国、"爱家"意识。</tspan></text>
<text class="t" x="2092.8" y="1445.8"><tspan x="2092.8" dy="13.8">诚然教学中仍然存在很多不足之处，如：有部</tspan><tspan x="2092.8" dy="13.8">分学生学习兴趣不高、学习成绩难以提高、学</tspan><tspan x="2092.8" dy="13.8">生探究学习意识不显著、会考成绩不尽人意等</tspan><tspan x="2092.8" dy="13.8">，这些现状都值得在今后的很长时间里去不断</tspan><tspan x="2092.8" dy="13.8">完善和提高。但是，相信只要有不懈努力的恒</tspan><tspan x="2092.8" dy="13.8">心和毅力，今后的教学定会取得更加显著的成</tspan><tspan x="2092.8" dy="13.8">效。</tspan></text>
</g>
<g id="s2-3">
<text class="t" x="1798.5" y="2094.7">三、新教材的教学收获</text>
<text class="t" x="1937.5" y="1577.7"><tspan x="1937.5" dy="13.8">新课程几乎每页都有漂亮的插图，通过学习地</tspan><tspan x="1937.5" dy="13.8">理，使学生了解大自然的奥秘，了解我国一些</tspan><tspan x="1937.5" dy="13.8">经济文化现象，会用地理的思想和方法看待身</tspan><tspan x="1937.5" dy="13.8">边的一些事情，尊重自然规律，做大自然的好</tspan><tspan x="1937.5" dy="13.8">朋友。学习地理主要是掌握学科知识的基本概</tspan><tspan x="1937.5" dy="13.8">念、原理和规律，懂得自学地理的方法，教会</tspan><tspan x="1937.5" dy="13.8">学生阅读地图，并熟悉它们，为学生今后参加</tspan><tspan x="1937.5" dy="13.8">社会实践活动打下基础。初中地理第三册主要</tspan><tspan x="1937.5" dy="13.8">从中国区域地理的角度，用事实材料，使学生</tspan><tspan x="1937.5" dy="13.8">认识不同地区的居民，如何利用当地的自然条</tspan><tspan x="1937.5" dy="13.8">件，发展生产和促进社会进步，以及不同的地</tspan><tspan x="1937.5" dy="13.8">区所出现的程度不同的环境、资源、人口等问</tspan><tspan x="1937.5" dy="13.8">题。</tspan></text>
<text class="t" x="1937.5" y="1791.8"><tspan x="1937.5" dy="13.8">初二学生，学习的全是中国的地理知识，身为</tspan><tspan x="1937.5" dy="13.8">炎黄子孙的中国人，连一点中国地理常识都不</tspan><tspan x="1937.5" dy="13.8">认识，从这点，激发学生对中国的地理环境、</tspan><tspan x="1937.5" dy="13.8">风土人情等认识、理解。他山之石，可以攻玉</tspan><tspan x="1937.5" dy="13.8">。针对学生实际，我在教学中抓住学生的这种</tspan><tspan x="1937.5" dy="13.8">心理状态，有针对性地对学生进行教学，认真</tspan><tspan x="1937.5" dy="13.8">做了以下几方面的工作。</tspan></text>
<text class="t" x="1937.5" y="2002">(1)激发学生的积极性及学习兴趣</text>
<text class="t" x="2122.3" y="1923.4"><tspan x="2122.3" dy="13.8">在教学过程中，我充分利用已有的知识基础，</tspan><tspan x="2122.3" dy="13.8">引导学生思考课文中提出的问题和现象，并自</tspan><tspan x="2122.3" dy="13.8">行设计或补充一些学生较熟悉和感兴趣的地理</tspan><tspan x="2122.3" dy="13.8">问题和事象，以展示地理课内容的丰富多</tspan></text>
<text class="t" x="2122.3" y="2012.9"><tspan x="2122.3" dy="13.8">彩和智力价值，初步激起学生的求知欲。例如</tspan><tspan x="2122.3" dy="13.8">在讲"选择合适的交通运输方式"的时候我就是</tspan><tspan x="2122.3" dy="13.8">以新年走亲访友创设实际情景，让学生结合实</tspan><tspan x="2122.3" dy="13.8">际为自己的出行制定最佳的方案。</tspan></text>
<text class="t" x="1937.5" y="2250.5">(2)要联系人们生活的实际与地理环境的关系</text>
<text class="t" x="2176.6" y="2102"><tspan x="2176.6" dy="13.8">"人地关系"是学习地理知识的主要线索，因此</tspan><tspan x="2176.6" dy="13.8">列举的问题和地理事物要尽可能启发学生运用</tspan><tspan x="2176.6" dy="13.8">身边的"人地关系"材料，使学生实实在在认识</tspan><tspan x="2176.6" dy="13.8">掌握地理知识的重要性。另外，也可以从地理</tspan><tspan x="2176.6" dy="13.8">学科中与其它学科相互联系，相互渗透的角度</tspan><tspan x="2176.6" dy="13.8">举例，引导学生正确认识掌握地理基础知识与</tspan><tspan x="2176.6" dy="13.8">学好其它学科的关系。例如在讲"中国的资源"</tspan><tspan x="2176.6" dy="13.8">的时候，我利用花厅是实际情况——"煤炭"</tspan><tspan x="2176.6" dy="13.8">资源进行讲解，与历史结合讲解，学生听的很</tspan><tspan x="2176.6" dy="13.8">有味道，而且也心领神会，掌握的很快。</tspan></text>
<text class="t" x="2176.6" y="2275.4"><tspan x="2176.6" dy="13.8">在如地理知识在生产建设中的作用，主要体现</tspan><tspan x="2176.6" dy="13.8">在农业、工业及其联系纽带——交通输业等</tspan><tspan x="2176.6" dy="13.8">方面。我也顺带把地理知识与通信、邮电、贸</tspan><tspan x="2176.6" dy="13.8">易、旅游等第三产业的密切关系结合讲解。特</tspan><tspan x="2176.6" dy="13.8">别是地图知识、地名和各种交通路线的地理分</tspan><tspan x="2176.6" dy="13.8">布知识结果令人满意。</tspan></text>
<text class="t" x="1937.5" y="2517">(3)制定一系列的教学方法</text>
<text class="t" x="2089.7" y="2392.9"><tspan x="2089.7" dy="13.8">在教学过程中，指导学生阅读课文，分析归纳</tspan><tspan x="2089.7" dy="13.8">出"看书、听讲、用图、动手、动脑"等方法和</tspan><tspan x="2089.7" dy="13.8">要求，并可利用"地理学习"图向学生介绍地理</tspan><tspan x="2089.7" dy="13.8">学习的形式。针对初二学生的特点，要求应简</tspan><tspan x="2089.7" dy="13.8">明具体而又切实可行。并经常督促检查，养成</tspan><tspan x="2089.7" dy="13.8">学生很好的学习习惯。还要进行复习、测验、</tspan><tspan x="2089.7" dy="13.8">考试组织课外活动等。</tspan></text>
<text class="t" x="2089.7" y="2524.1"><tspan x="2089.7" dy="13.8">在教学中我根据教学内容的特点和学校条件选</tspan><tspan x="2089.7" dy="13.8">择了恰当的教学方法，如：角色扮演、分组活</tspan><tspan x="2089.7" dy="13.8">动、问题解决、读图导学、实验探究、启发引</tspan><tspan x="2089.7" dy="13.8">导、自学讨论、发现教学等;于此同时要注意</tspan><tspan x="2089.7" dy="13.8">学生学习方法的指导，为培养学生的自主、合</tspan><tspan x="2089.7" dy="13.8">作、探究的学习方式奠定基础，例如：自主探</tspan><tspan x="2089.7" dy="13.8">究的预习消化法、图象分析法、归纳总结法、</tspan><tspan x="2089.7" dy="13.8">记忆巩固法等。</tspan></text>
</g>
<g id="s2-4">
<text class="t" x="1798.5" y="2710">四、存在的问题</text>
<text class="t" x="1905" y="2668.6"><tspan x="1905" dy="13.8">今年是本人第一年任教，教学经验的不足，也</tspan><tspan x="1905" dy="13.8">无法避免的存在一些不足之处。另外，学校的</tspan><tspan x="1905" dy="13.8">基础设施还不是很完善，山区农村学生信息闭</tspan><tspan x="1905" dy="13.8">塞，知识面狭窄，对外界了解甚少，给学生学</tspan><tspan x="1905" dy="13.8">习地理带来了很大的影响。</tspan></text>
</g>
<g id="s2-5">
<text class="t" x="1798.5" y="2820.7">五、今后的努力目标</text>
<text class="t" x="1926.7" y="2772.2"><tspan x="1926.7" dy="13.8">当前的基础教育课程改革对老师提出了更高的</tspan><tspan x="1926.7" dy="13.8">要求，不仅要教，更要不断的学习，适应性理</tspan><tspan x="1926.7" dy="13.8">念，掌握现代教育技术，用于自己的教学过程</tspan><tspan x="1926.7" dy="13.8">之中，今后的教学工作，我一定应以素质教育</tspan><tspan x="1926.7" dy="13.8">为突破点，锐意进取，积极学习新的理念，新</tspan><tspan x="1926.7" dy="13.8">的思想，尽力地培养学生技能。</tspan></text>
</g>

<g id="sum4">
<rect x="1566" y="3191" width="202" height="36" rx="18" class="n1"/>
<text class="l1" x="1580" y="3214">地理教师教学心得通用总结4</text>
</g>
<g id="s4-0">
<text class="t" x="1798.5" y="3178.5"><tspan x="1798.5" dy="13.8">本学期我在八年级地理教研组的统帅下，努力</tspan><tspan x="1798.5" dy="13.8">贯彻学校办学思路，立足课堂，抓教学质量，</tspan><tspan x="1798.5" dy="13.8">并加强了学校社团活动、拓展型课程的开设，</tspan><tspan x="1798.5" dy="13.8">进一步促进素质教育，本学期教学总结如下：</tspan></text>
</g>
<g id="s4-1">
<text class="t" x="2046" y="2997">一、认真提高课堂教学效益。</text>
<text class="t" x="2217.4" y="2889.9"><tspan x="2217.4" dy="13.8">1、能够认真抓好教学常规，能认真备课，认</tspan><tspan x="2217.4" dy="13.8">真组织教学，认真批改作业。作业批改能够认</tspan><tspan x="2217.4" dy="13.8">真处理，针对学生现实情景，本学期我加强了</tspan><tspan x="2217.4" dy="13.8">作业的评讲。</tspan></text>
<text class="t" x="2217.4" y="2978.9"><tspan x="2217.4" dy="13.8">2、本学期我注意利用地理教具、图片，异常</tspan><tspan x="2217.4" dy="13.8">是充分利用现代化的教学手段组织教学。</tspan></text>
<text class="t" x="2217.4" y="3041"><tspan x="2217.4" dy="13.8">3、加强组内教师的相互交流，互相听课，圆</tspan><tspan x="2217.4" dy="13.8">满完成了本学期听课任务，并经过互相学习，</tspan><tspan x="2217.4" dy="13.8">取长补短，促进了自身教学水平的提高。</tspan></text>
</g>
<g id="s4-2">
<text class="t" x="2046" y="3192.2"><tspan x="2046" dy="13.8">二、教育教学科研以日常教学活动为基础，并</tspan><tspan x="2046" dy="13.8">贯穿在日常教研工作中。</tspan></text>
<text class="t" x="2293" y="3116.7"><tspan x="2293" dy="13.8">1、我能够利用教研活动学习相关课题校本知识，</tspan><tspan x="2293" dy="13.8">并争取机会与校外、区外进行交流学习。</tspan></text>
<text class="t" x="2293" y="3178.4"><tspan x="2293" dy="13.8">2、贯彻科研落实课堂的原则，继续推进区级</tspan><tspan x="2293" dy="13.8">课题的实验研究工作，使我组的课题《地理课</tspan><tspan x="2293" dy="13.8">堂常规教学与研究性学习整合的探索》获得较</tspan><tspan x="2293" dy="13.8">大的进展，并进行了中期汇报。</tspan></text>
<text class="t" x="2293" y="3267.7"><tspan x="2293" dy="13.8">3、我进取撰写教学经验文章、论文以及教学</tspan><tspan x="2293" dy="13.8">案例并获得了较高的奖项。</tspan></text>
</g>
<g id="s4-3">
<text class="t" x="2046" y="3409.5"><tspan x="2046" dy="13.8">三、抓好社团活动、拓展型课程及校本课程建</tspan><tspan x="2046" dy="13.8">设。</tspan></text>
<text class="t" x="2293" y="3329.9"><tspan x="2293" dy="13.8">1、认真组织好学校天文知识方面的社团活动</tspan><tspan x="2293" dy="13.8">，丰富了学生视野，提高了学生探索宇宙奥秘</tspan><tspan x="2293" dy="13.8">的兴趣。</tspan></text>
<text class="t" x="2293" y="3405.5"><tspan x="2293" dy="13.8">2、能结合研究课题，进行校本课程的建设，</tspan><tspan x="2293" dy="13.8">但相关方面的理论与经验相对不足，需要今后</tspan><tspan x="2293" dy="13.8">认真学习。</tspan></text>
<text class="t" x="2293" y="3480.8"><tspan x="2293" dy="13.8">3、根据学校要求，认真组织好本学期地理</tspan><tspan x="2293" dy="13.8">拓展型课程的开展。</tspan></text>
</g>

<g id="related">
<rect x="1566" y="3742" width="266" height="50" rx="25" class="n1"/>
<text class="l1" x="1591" y="3764">地理教师教学心得通用总结相关文</text>
<text class="l1" x="1591" y="3782">章：</text>
</g>
<g id="related-items">
<text class="t" x="1859" y="3556">★ 地理教师教学心得体会范文10篇</text>
<text class="t" x="1859" y="3603.9">★ 地理教师教学工作心得总结5篇</text>
<text class="t" x="1859" y="3651.7">★ 地理教学通用心得总结范文5篇</text>
<text class="t" x="1859" y="3699.6">★ 地理教师教学心得总结范例5篇</text>
<text class="t" x="1859" y="3747.4">★ 地理教师教学心得总结模板5篇</text>
<text class="t" x="1859" y="3795.3">★ 地理老师教学心得反思总结5篇</text>
<text class="t" x="1859" y="3843.1">★ 地理教学教师教育心得总结5篇</text>
<text class="t" x="1859" y="3891">★ 地理教学任务教师心得总结5篇</text>
<text class="t" x="1859" y="3938.8">★ 地理教学教师心得总结范本7篇</text>
<text class="t" x="1859" y="3986.7">★ 地理教师教学个人反思总结5篇</text>
</g>

<g id="watermarks" class="wm">
<text transform="translate(651,509) rotate(-33)" text-anchor="middle" y="35"><tspan style="font-family:'Noto Sans CJK SC',sans-serif;font-size:95px">树图</tspan><tspan style="font-family:'Liberation Serif',serif;font-size:140px"> shutu.cn</tspan></text>
<text transform="translate(651,1520) rotate(-33)" text-anchor="middle" y="35"><tspan style="font-family:'Noto Sans CJK SC',sans-serif;font-size:95px">树图</tspan><tspan style="font-family:'Liberation Serif',serif;font-size:140px"> shutu.cn</tspan></text>
<text transform="translate(651,2520) rotate(-33)" text-anchor="middle" y="35"><tspan style="font-family:'Noto Sans CJK SC',sans-serif;font-size:95px">树图</tspan><tspan style="font-family:'Liberation Serif',serif;font-size:140px"> shutu.cn</tspan></text>
<text transform="translate(651,3525) rotate(-33)" text-anchor="middle" y="35"><tspan style="font-family:'Noto Sans CJK SC',sans-serif;font-size:95px">树图</tspan><tspan style="font-family:'Liberation Serif',serif;font-size:140px"> shutu.cn</tspan></text>
<text transform="translate(1933,541) rotate(-33)" text-anchor="middle" y="35"><tspan style="font-family:'Noto Sans CJK SC',sans-serif;font-size:95px">树图</tspan><tspan style="font-family:'Liberation Serif',serif;font-size:140px"> shutu.cn</tspan></text>
<text transform="translate(1933,1534) rotate(-33)" text-anchor="middle" y="35"><tspan style="font-family:'Noto Sans CJK SC',sans-serif;font-size:95px">树图</tspan><tspan style="font-family:'Liberation Serif',serif;font-size:140px"> shutu.cn</tspan></text>
<text transform="translate(1933,2520) rotate(-33)" text-anchor="middle" y="35"><tspan style="font-family:'Noto Sans CJK SC',sans-serif;font-size:95px">树图</tspan><tspan style="font-family:'Liberation Serif',serif;font-size:140px"> shutu.cn</tspan></text>
<text transform="translate(1933,3530) rotate(-33)" text-anchor="middle" y="35"><tspan style="font-family:'Noto Sans CJK SC',sans-serif;font-size:95px">树图</tspan><tspan style="font-family:'Liberation Serif',serif;font-size:140px"> shutu.cn</tspan></text>
</g>
</svg>
